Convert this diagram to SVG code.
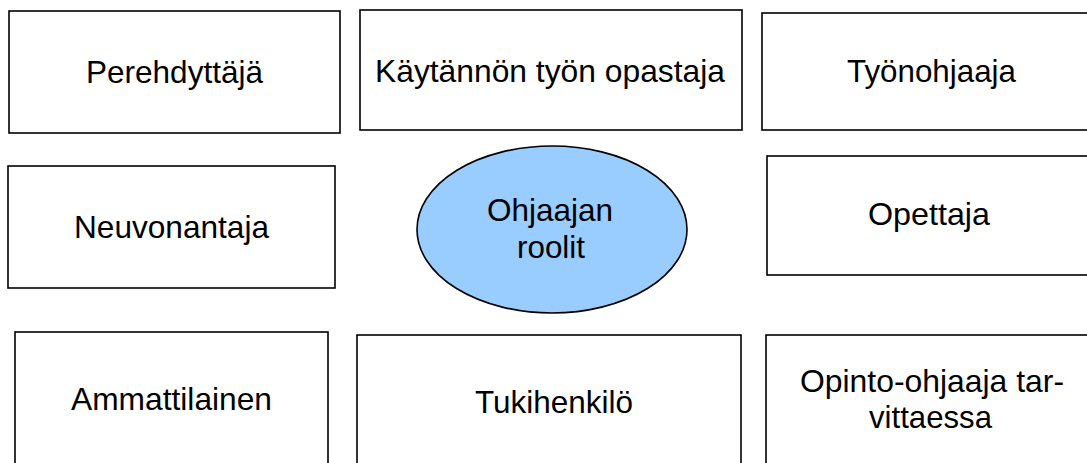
<svg xmlns="http://www.w3.org/2000/svg" width="1087" height="463" viewBox="0 0 1087 463">
<style>
.box{fill:#fff;stroke:#000;stroke-width:1.6}
.ell{fill:#99ccff;stroke:#000;stroke-width:1.6}
text{font-family:"Liberation Sans",Arial,sans-serif;font-size:30.5px;fill:#000;text-anchor:middle}
</style>
<rect width="1087" height="463" fill="#fff"/>
<g id="connectors"></g>
<g id="perehdyttaja"><rect class="box" x="9" y="11" width="331" height="122"/><text x="174.5" y="83" textLength="177" lengthAdjust="spacingAndGlyphs">Perehdyttäjä</text></g>
<g id="kaytannon"><rect class="box" x="360" y="10" width="382" height="120"/><text x="550" y="82" textLength="350" lengthAdjust="spacingAndGlyphs">Käytännön työn opastaja</text></g>
<g id="tyonohjaaja"><rect class="box" x="762" y="13" width="340" height="117"/><text x="931.5" y="82" textLength="169" lengthAdjust="spacingAndGlyphs">Työnohjaaja</text></g>
<g id="neuvonantaja"><rect class="box" x="8" y="166" width="327" height="122"/><text x="171.5" y="238" textLength="195" lengthAdjust="spacingAndGlyphs">Neuvonantaja</text></g>
<g id="ohjaajan-roolit"><ellipse class="ell" cx="552" cy="229.5" rx="135" ry="83.5"/><text x="550" y="221" textLength="126" lengthAdjust="spacingAndGlyphs">Ohjaajan</text><text x="551" y="258" textLength="68" lengthAdjust="spacingAndGlyphs">roolit</text></g>
<g id="opettaja"><rect class="box" x="767" y="156" width="340" height="119"/><text x="929" y="225" textLength="122" lengthAdjust="spacingAndGlyphs">Opettaja</text></g>
<g id="ammattilainen"><rect class="box" x="15" y="332" width="313" height="150"/><text x="171.5" y="410" textLength="201" lengthAdjust="spacingAndGlyphs">Ammattilainen</text></g>
<g id="tukihenkilo"><rect class="box" x="357" y="335" width="384" height="150"/><text x="554" y="413" textLength="158" lengthAdjust="spacingAndGlyphs">Tukihenkilö</text></g>
<g id="opinto-ohjaaja"><rect class="box" x="766" y="335" width="340" height="150"/><text x="932" y="392" textLength="264" lengthAdjust="spacingAndGlyphs">Opinto-ohjaaja tar-</text><text x="930.5" y="428" textLength="123" lengthAdjust="spacingAndGlyphs">vittaessa</text></g>
</svg>
